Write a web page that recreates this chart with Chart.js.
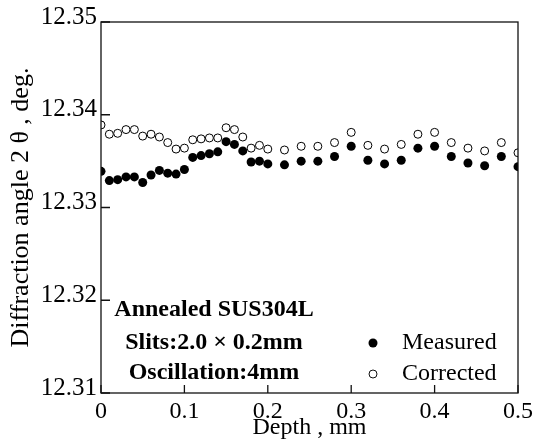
<!DOCTYPE html>
<html>
<head>
<meta charset="utf-8">
<script src="https://cdn.jsdelivr.net/npm/chart.js@4/dist/chart.umd.min.js"></script>
<style>
    body { margin: 0; background: #fff; }
    #wrap { width: 537px; height: 444px; }
</style>
</head>
<body>
<div id="wrap"><canvas id="diffChart"></canvas></div>
<script>
var depth = [0, 0.01, 0.02, 0.03, 0.04, 0.05, 0.06, 0.07, 0.08, 0.09, 0.10,
    0.11, 0.12, 0.13, 0.14, 0.15, 0.16, 0.17, 0.18, 0.19, 0.20,
    0.22, 0.24, 0.26, 0.28, 0.30, 0.32, 0.34, 0.36, 0.38, 0.40,
    0.42, 0.44, 0.46, 0.48, 0.50];
var measured = [12.3339, 12.3329, 12.3330, 12.3333, 12.3333, 12.3327, 12.3335, 12.3340, 12.3337, 12.3336, 12.3341,
    12.3354, 12.3356, 12.3358, 12.3360, 12.3371, 12.3368, 12.3361, 12.3349, 12.3350, 12.3347,
    12.3346, 12.3350, 12.3350, 12.3355, 12.3366, 12.3351, 12.3347, 12.3351, 12.3364, 12.3366,
    12.3355, 12.3348, 12.3345, 12.3355, 12.3344];
var corrected = [12.3389, 12.3379, 12.3380, 12.3384, 12.3384, 12.3377, 12.3379, 12.3376, 12.3370, 12.3363, 12.3364,
    12.3373, 12.3374, 12.3375, 12.3375, 12.3386, 12.3384, 12.3376, 12.3364, 12.3367, 12.3363,
    12.3362, 12.3366, 12.3366, 12.3370, 12.3381, 12.3367, 12.3363, 12.3368, 12.3379, 12.3381,
    12.3370, 12.3364, 12.3361, 12.3370, 12.3359];
var xTicks = [0, 0.1, 0.2, 0.3, 0.4, 0.5];
var yTicks = [12.31, 12.32, 12.33, 12.34, 12.35];
var infoLines = ["Annealed SUS304L", "Slits:2.0 \u00D7 0.2mm", "Oscillation:4mm"];
var seriesNames = ["Measured", "Corrected"];

var serif = "'Liberation Serif', 'DejaVu Serif', serif";

function toPoints(xs, ys) {
    var pts = [];
    for (var i = 0; i < xs.length; i++) {
        pts.push({ x: xs[i], y: ys[i] });
    }
    return pts;
}

// frame, inner ticks, text box and legend
var framePlugin = {
    id: 'frame',
    afterDraw: function (chart) {
        var ctx = chart.ctx;
        var a = chart.chartArea;
        var xs = chart.scales.x;
        var ys = chart.scales.y;
        ctx.save();
        ctx.strokeStyle = '#111';
        ctx.lineWidth = 1.3;
        ctx.strokeRect(a.left, a.top, a.right - a.left, a.bottom - a.top);
        ctx.beginPath();
        yTicks.forEach(function (v) {
            var py = ys.getPixelForValue(v);
            ctx.moveTo(a.left, py);
            ctx.lineTo(a.left + 9, py);
        });
        xTicks.forEach(function (v) {
            var px = xs.getPixelForValue(v);
            ctx.moveTo(px, a.bottom);
            ctx.lineTo(px, a.bottom - 8);
        });
        ctx.stroke();

        ctx.fillStyle = '#000';
        ctx.textBaseline = 'middle';
        ctx.textAlign = 'center';
        ctx.font = 'bold 24px ' + serif;
        var cx = a.left + 113;
        ctx.fillText(infoLines[0], cx, 310);
        ctx.fillText(infoLines[1], cx, 343);
        ctx.fillText(infoLines[2], cx, 373);

        // legend
        ctx.font = '24px ' + serif;
        ctx.textAlign = 'left';
        ctx.beginPath();
        ctx.arc(373, 343, 4.5, 0, Math.PI * 2);
        ctx.fill();
        ctx.beginPath();
        ctx.arc(373, 374, 4, 0, Math.PI * 2);
        ctx.fillStyle = '#fff';
        ctx.fill();
        ctx.lineWidth = 1;
        ctx.stroke();
        ctx.fillStyle = '#000';
        ctx.fillText(seriesNames[0], 402, 343);
        ctx.fillText(seriesNames[1], 402, 374);
        ctx.restore();
    }
};

var chart = new Chart(document.getElementById('diffChart'), {
    type: 'scatter',
    data: {
        datasets: [
            {
                label: seriesNames[1],
                data: toPoints(depth, corrected),
                pointRadius: 4,
                pointBorderWidth: 1,
                pointBackgroundColor: '#fff',
                pointBorderColor: '#000'
            },
            {
                label: seriesNames[0],
                data: toPoints(depth, measured),
                pointRadius: 4.5,
                pointBorderWidth: 0,
                pointBackgroundColor: '#000',
                pointBorderColor: '#000'
            }
        ]
    },
    options: {
        responsive: true,
        maintainAspectRatio: false,
        animation: false,
        layout: { padding: { top: 22, right: 18, left: 0, bottom: 0 } },
        plugins: {
            legend: { display: false },
            tooltip: { enabled: false }
        },
        scales: {
            x: {
                type: 'linear',
                min: 0,
                max: 0.5,
                grid: { display: false, drawTicks: false },
                border: { display: false },
                afterBuildTicks: function (scale) {
                    scale.ticks = xTicks.map(function (v) { return { value: v }; });
                },
                afterFit: function (scale) { scale.height = 51; },
                ticks: {
                    padding: 4,
                    color: '#000',
                    font: { family: serif, size: 24 },
                    callback: function (v) { return String(v); }
                },
                title: {
                    display: true,
                    text: 'Depth , mm',
                    color: '#000',
                    font: { family: serif, size: 24 },
                    padding: { top: 0, bottom: 2 }
                }
            },
            y: {
                type: 'linear',
                min: 12.31,
                max: 12.35,
                grid: { display: false, drawTicks: false },
                border: { display: false },
                afterBuildTicks: function (scale) {
                    scale.ticks = yTicks.map(function (v) { return { value: v }; });
                },
                afterFit: function (scale) { scale.width = 101; },
                ticks: {
                    padding: 4,
                    labelOffset: -5,
                    color: '#000',
                    font: { family: serif, size: 25 },
                    callback: function (v) { return v.toFixed(2); }
                },
                title: {
                    display: true,
                    text: 'Diffraction angle 2 \u03B8 , deg.',
                    color: '#000',
                    font: { family: serif, size: 26 },
                    padding: { top: 6, bottom: 0 }
                }
            }
        }
    },
    plugins: [framePlugin]
});
</script>
</body>
</html>
